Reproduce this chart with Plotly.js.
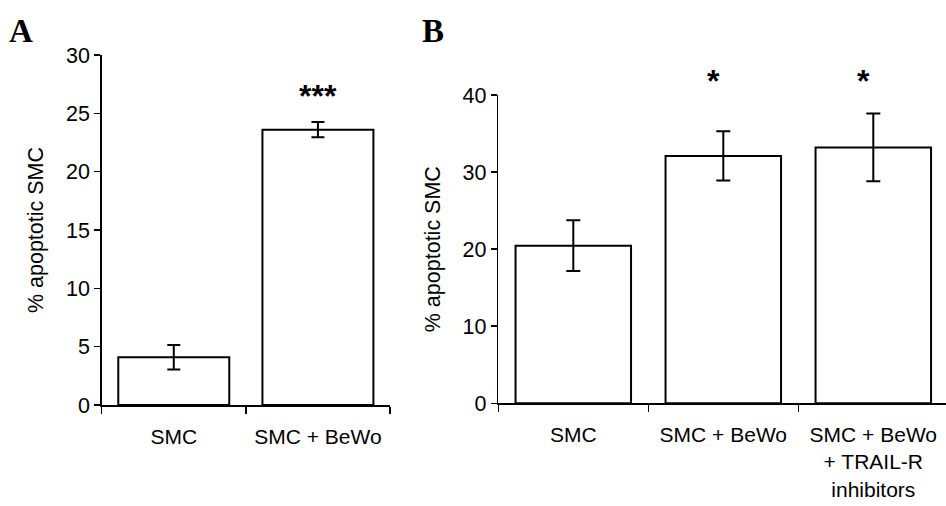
<!DOCTYPE html>
<html>
<head>
<meta charset="utf-8">
<script src="https://cdn.plot.ly/plotly-3.0.1.min.js"></script>
<style>html,body{margin:0;padding:0;background:#fff;}#chart{width:946px;height:506px;}</style>
</head>
<body>
<div id="chart"></div>
<script>
// Panel A data
const catsA = ["SMC", "SMC + BeWo"];
const valsA = [4.1, 23.6];
const errA = [1.05, 0.65];
const starsA = ["", "***"];
// Panel B data
const catsB = ["SMC", "SMC + BeWo", "SMC + BeWo<br>+ TRAIL-R<br>inhibitors"];
const valsB = [20.45, 32.1, 33.2];
const errB = [3.3, 3.2, 4.4];
const starsB = ["", "*", "*"];
const panelLabels = ["A", "B"];
const yTitle = "% apoptotic SMC";

const W = 946, H = 506;
const FONT = "Liberation Sans, Arial, sans-serif";

function barTrace(x, y, e, xa, ya, capw) {
  return {
    type: "bar", x: x, y: y, xaxis: xa, yaxis: ya, width: 0.77,
    marker: {color: "#ffffff", line: {color: "#000000", width: 2}},
    error_y: {type: "data", array: e, visible: true, color: "#000000", thickness: 2, width: capw},
    hoverinfo: "skip", showlegend: false
  };
}

const data = [
  barTrace(catsA, valsA, errA, "x", "y", 6.5),
  barTrace(catsB, valsB, errB, "x2", "y2", 7)
];

function xAxis(domain, range) {
  return {
    domain: domain, range: range, type: "category",
    showline: true, linecolor: "#000", linewidth: 1.5,
    ticks: "outside", tickson: "boundaries", ticklen: 7, tickwidth: 1.5, tickcolor: "#000",
    tickfont: {family: FONT, size: 21, color: "#000"},
    ticklabelstandoff: 12,
    showgrid: false, zeroline: false, fixedrange: true
  };
}
function yAxis(domain, range, dtick, anchor) {
  return {
    domain: domain, range: range, dtick: dtick, tick0: 0, anchor: anchor,
    showline: true, linecolor: "#000", linewidth: 1.5,
    ticks: "outside", ticklen: 6, tickwidth: 1.5, tickcolor: "#000",
    tickfont: {family: FONT, size: 21.5, color: "#000"},
    title: {text: yTitle, font: {family: FONT, size: 21.5, color: "#000"}, standoff: 16},
    showgrid: false, zeroline: false, fixedrange: true
  };
}

const xa = xAxis([101.7 / W, 390 / W], [-0.5, 1.5]);
xa.anchor = "y";
const xb = xAxis([498.3 / W, 1], [-0.5, 2.4847]);
xb.anchor = "y2";

const STARFONT = {family: FONT, size: 32, color: "#000", weight: "bold"};
const annotations = [];
starsA.forEach((s, i) => { if (s) annotations.push({
  x: catsA[i], xref: "x", y: (H - 96.4) / H, yref: "paper", text: "<b>" + s + "</b>", showarrow: false,
  xanchor: "center", yanchor: "middle", font: STARFONT
}); });
starsB.forEach((s, i) => { if (s) annotations.push({
  x: catsB[i], xref: "x2", y: (H - 80.7) / H, yref: "paper", text: "<b>" + s + "</b>", showarrow: false, xshift: -10,
  xanchor: "center", yanchor: "middle", font: STARFONT
}); });
const LBLFONT = {family: "Liberation Serif, Times New Roman, serif", size: 33, color: "#000"};
annotations.push({x: 7 / W, xref: "paper", y: (H - 51) / H, yref: "paper", text: "<b>" + panelLabels[0] + "</b>",
  showarrow: false, xanchor: "left", yanchor: "bottom", font: LBLFONT});
annotations.push({x: 420 / W, xref: "paper", y: (H - 51) / H, yref: "paper", text: "<b>" + panelLabels[1] + "</b>",
  showarrow: false, xanchor: "left", yanchor: "bottom", font: LBLFONT});

const layout = {
  width: W, height: H,
  margin: {l: 0, r: 0, t: 0, b: 0, pad: 0},
  paper_bgcolor: "#fff", plot_bgcolor: "rgba(0,0,0,0)",
  showlegend: false,
  xaxis: xa,
  yaxis: yAxis([(H - 405) / H, (H - 55) / H], [0, 30], 5, "x"),
  xaxis2: xb,
  yaxis2: yAxis([(H - 403.3) / H, (H - 95) / H], [0, 40], 10, "x2"),
  annotations: annotations
};

Plotly.newPlot("chart", data, layout, {staticPlot: true, displayModeBar: false});
</script>
</body>
</html>
